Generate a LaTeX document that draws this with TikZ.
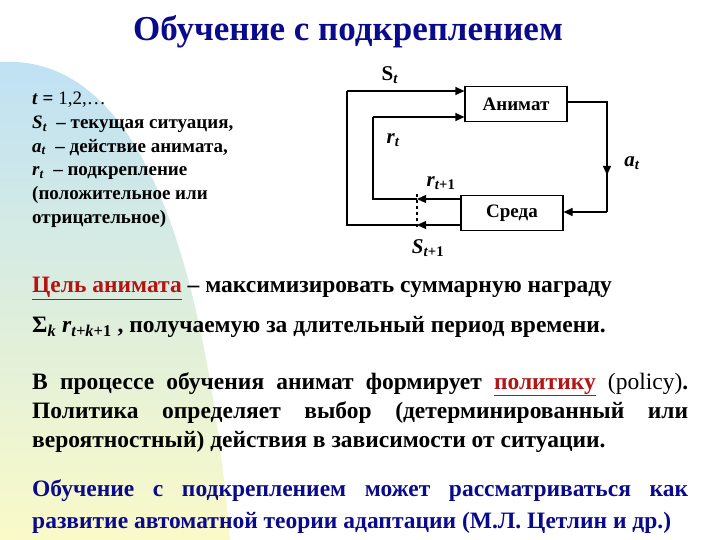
\documentclass[tikz,border=0pt]{standalone}
\usepackage{fontspec}
\setmainfont{Liberation Serif}
\usetikzlibrary{arrows.meta}
\definecolor{ttl}{RGB}{10,10,140}
\definecolor{dred}{RGB}{180,20,20}
\definecolor{blobtop}{RGB}{190,225,245}
\definecolor{blobbot}{RGB}{250,250,200}
\tikzset{
 blk/.style={draw,line width=1.2pt,minimum width=102pt,minimum height=35pt,font=\bfseries\fontsize{19}{21}\selectfont},
 wire/.style={line width=1.2pt},
 arr/.style={wire,-{Triangle[length=9pt,width=8pt]}},
 lbl/.style={font=\bfseries\itshape\fontsize{21}{23}\selectfont},
 para/.style={anchor=north west,text width=656pt,align=justify,inner sep=0pt,font=\bfseries\fontsize{23.5}{29}\selectfont}
}
\begin{document}
\begin{tikzpicture}[x=1pt,y=-1pt]
\useasboundingbox (0,0) rectangle (720,540);
\shade[top color=blobtop,bottom color=blobbot] (0,62) .. controls (120,55) and (200,200) .. (230,540) -- (0,540) -- cycle;
\node[font=\bfseries\fontsize{35}{37}\selectfont,text=ttl] (title) at (348,32) {Обучение с подкреплением};
\node[anchor=north west,inner sep=0pt,align=left,font=\bfseries\fontsize{19}{23.7}\selectfont] (list) at (32,92)
 {\textit{t} = \textmd{1,2,…}\\ \textit{S\textsubscript{t}}\ \ – текущая ситуация,\\ \textit{a\textsubscript{t}}\ \ – действие анимата,\\ \textit{r\textsubscript{t}}\ \ – подкрепление\\ (положительное или\\ отрицательное)};
\node[blk] (anim) at (516,104) {Анимат};
\node[blk] (env) at (512,213) {Среда};
\coordinate (d1) at (417,199);
\coordinate (d2) at (417,225);
\draw[wire,dashed] (417,194) -- (417,229);
\draw[wire] (anim.east|-0,102) -- (607,102) -- (607,212);
\draw[arr] (607,140) -- (607,175);
\draw[arr] (607,212) -- (env.east|-0,212);
\draw[arr] (env.west|-d1) -- (d1);
\draw[arr] (env.west|-d2) -- (d2);
\draw[wire] (d1) -- (373,199) -- (373,117);
\draw[arr] (373,117) -- (anim.west|-0,117);
\draw[wire] (d2) -- (347,225) -- (347,91);
\draw[arr] (347,91) -- (anim.west|-0,91);
\node[lbl,font=\bfseries\fontsize{21}{23}\selectfont] (st) at (390,75) {S\textsubscript{\textit{t}}};
\node[lbl] (rt) at (393,140) {r\textsubscript{t}};
\node[lbl] (at) at (632,163) {a\textsubscript{t}};
\node[lbl] (rt1) at (441,183) {r\textsubscript{t\textup{+1}}};
\node[lbl] (st1) at (428,248) {S\textsubscript{t\textup{+1}}};
\node[para] (p1) at (32,277) {\textcolor{dred}{\underline{Цель анимата}} – максимизировать суммарную награду\\[11pt] Σ\textsubscript{\textit{k}} \textit{r}\textsubscript{\textit{t+k}+1} , получаемую за длительный период времени.};
\node[para] (p2) at (32,372) {В процессе обучения анимат формирует \textcolor{dred}{\underline{политику}} \textmd{(policy)}.\linebreak Политика определяет выбор (детерминированный или\linebreak вероятностный) действия в зависимости от ситуации.};
\node[para,text=ttl,font=\bfseries\fontsize{23.5}{32}\selectfont] (p3) at (32,479) {Обучение с подкреплением может рассматриваться как\linebreak развитие автоматной теории адаптации (М.Л. Цетлин и др.)};
\end{tikzpicture}
\end{document}
